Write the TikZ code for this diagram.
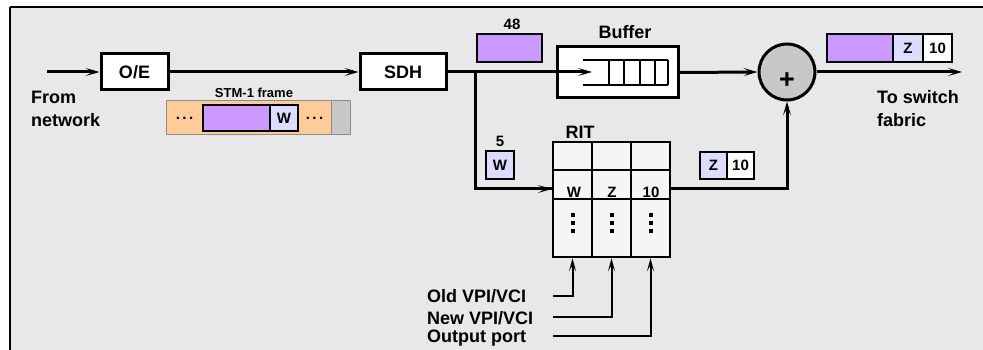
\documentclass[tikz,border=0pt]{standalone}
\usepackage{fontspec}
\setmainfont{Liberation Sans}
\usetikzlibrary{arrows.meta,calc}
\definecolor{bg}{HTML}{E8E8E8}
\definecolor{purp}{HTML}{CC99FF}
\definecolor{lblue}{HTML}{DCDCFF}
\definecolor{orng}{HTML}{FFCC99}
\definecolor{gry}{HTML}{C8C8C8}
\definecolor{cellc}{HTML}{F5F5F5}
\definecolor{frameedge}{HTML}{8C8C8C}
\tikzset{
  blk/.style={draw, line width=3pt, fill=white, inner sep=0pt, font=\bfseries\fontsize{18}{18}\selectfont},
  lbl/.style={inner sep=0pt, font=\bfseries\fontsize{18}{23}\selectfont, align=left},
  small/.style={inner sep=0pt, font=\bfseries\fontsize{15}{15}\selectfont},
  tiny/.style={inner sep=0pt, font=\bfseries\fontsize{13}{13}\selectfont},
  pk/.style={draw, line width=2.5pt, inner sep=0pt, minimum height=27pt, font=\bfseries\fontsize{15}{15}\selectfont},
  rcell/.style={draw, line width=2.5pt, fill=cellc, inner sep=0pt, minimum width=39pt},
  conn/.style={line width=3pt, -{Stealth[length=14pt,width=8pt,inset=7pt]}},
  plain/.style={line width=3pt},
  thinconn/.style={line width=2pt, -{Stealth[length=13pt,width=7pt,inset=6pt]}},
  qline/.style={line width=1.5pt},
  dotsq/.style={fill=black}
}
\begin{document}
\begin{tikzpicture}[x=1pt,y=-1pt]
\useasboundingbox (0,0) rectangle (983,350);
% background panel
\fill[bg] (10,7) rectangle (983,350);
\draw[line width=1.5pt] (10,7) -- (983,7);
\draw[line width=2.5pt] (10,7) -- (10,350);

% main blocks
\node[blk, minimum width=67pt, minimum height=36pt] (oe) at (134.5,72) {O/E};
\node[blk, minimum width=86pt, minimum height=36pt] (sdh) at (403,72) {SDH};
\node[blk, minimum width=121pt, minimum height=51pt] (buf) at (617.5,72.5) {};
\node[lbl, anchor=base] (buflbl) at (625,39) {Buffer};
% queue inside buffer
\draw[qline] (583,60) -- (668,60);
\draw[qline] (583,85) -- (668,85);
\foreach \qx in {609,624,640,655,668} \draw[qline] (\qx,60) -- (\qx,85);

% adder
\node[circle, draw, line width=3pt, fill=gry, minimum size=56pt, inner sep=0pt,
      font=\bfseries\fontsize{27}{27}\selectfont] (add) at (787,72) {\raisebox{-17pt}[0pt][0pt]{+}};

% labels
\node[lbl, anchor=west] (from) at (31,108.5) {From\\network};
\node[lbl, anchor=west] (to) at (877,108.5) {To switch\\fabric};

% STM-1 frame
\node[tiny] (stmlbl) at (254,93) {STM-1 frame};
\node[draw=frameedge, line width=1pt, fill=orng, minimum width=184pt, minimum height=34pt, inner sep=0pt] (stm) at (258,118) {};
\fill[gry] (331,101) rectangle (350,135);
\draw[frameedge, line width=1pt] (331,101) -- (331,135);
\draw[frameedge, line width=1pt] (166,101) rectangle (350,135);
\node[pk, fill=purp, minimum width=67pt, minimum height=26pt] (stmp) at (236.5,118) {};
\node[pk, fill=lblue, minimum width=28pt, minimum height=26pt] (stmw) at (284,118) {W};
\node[small] (dl) at (184.5,118.5) {.\,.\,.};
\node[small] (dr) at (314.5,118.5) {.\,.\,.};

% 48 packet
\node[pk, fill=purp, minimum width=65pt, minimum height=28pt] (p48) at (509.5,48) {};
\node[small, anchor=base] (l48) at (512,30) {48};

% output packet
\node[pk, fill=purp, minimum width=66pt, minimum height=28pt] (op) at (860,48) {};
\node[pk, fill=lblue, minimum width=30pt, minimum height=28pt] (oz) at (908,48) {Z};
\node[pk, fill=white, minimum width=29pt, minimum height=28pt] (o10) at (937.5,48) {10};

% W (5) packet
\node[pk, fill=lblue, minimum width=28pt, minimum height=28pt] (pw) at (500,165) {W};
\node[small, anchor=base] (l5) at (500,147) {5};

% Z 10 packet
\node[pk, fill=lblue, minimum width=27pt, minimum height=27pt] (zz) at (713.5,165.5) {Z};
\node[pk, fill=white, minimum width=27pt, minimum height=27pt] (z10) at (740.5,165.5) {10};

% RIT table
\node[lbl, anchor=base] (rit) at (580,139) {RIT};
\node[rcell, minimum height=28pt] (r11) at (572.5,156) {};
\node[rcell, minimum height=28pt] (r12) at (611.5,156) {};
\node[rcell, minimum height=28pt] (r13) at (650.5,156) {};
\node[rcell, minimum height=29pt] (r21) at (572.5,184.5) {};
\node[rcell, minimum height=29pt] (r22) at (611.5,184.5) {};
\node[rcell, minimum height=29pt] (r23) at (650.5,184.5) {};
\node[rcell, minimum height=58pt] (r31) at (572.5,228) {};
\node[rcell, minimum height=58pt] (r32) at (611.5,228) {};
\node[rcell, minimum height=58pt] (r33) at (650.5,228) {};
\node[small, anchor=base] (tw) at (574,197) {W};
\node[small, anchor=base] (tz) at (612,197) {Z};
\node[small, anchor=base] (t10) at (651,197) {10};
\foreach \cx in {573,612,651}
  \foreach \cy in {215,223,231}
    \fill[dotsq] (\cx-1.6,\cy-1.6) rectangle (\cx+1.6,\cy+1.6);

% bottom labels
\node[lbl, anchor=west] (oldv) at (427,296.5) {Old VPI/VCI};
\node[lbl, anchor=west] (newv) at (427,318) {New VPI/VCI};
\node[lbl, anchor=west] (outp) at (427,338) {Output port};

% connectors
\coordinate (src) at (47,72);
\coordinate (qin) at (592,72);
\coordinate (br) at (475,72);
\coordinate (dst) at (962,72);
\coordinate (b1) at (553,296);
\coordinate (b2) at (553,317);
\coordinate (b3) at (553,336);

\draw[conn] (src) -- (oe.west);
\draw[conn] (oe.east) -- (sdh.west);
\draw[conn] (sdh.east) -- (qin);
\draw[plain] (br) |- ([yshift=-4.5pt]r21.west);
\draw[conn] ([xshift=-30pt,yshift=-4.5pt]r21.west) -- ([yshift=-4.5pt]r21.west);
\draw[conn] (buf.east) -- (add.west);
\draw[conn] (add.east) -- (dst);
\draw[conn] ([yshift=-4.5pt]r23.east) -| (add.south);

\draw[thinconn] (b1) -| (r31.south);
\draw[thinconn] (b2) -| (r32.south);
\draw[thinconn] (b3) -| (r33.south);
\end{tikzpicture}
\end{document}
